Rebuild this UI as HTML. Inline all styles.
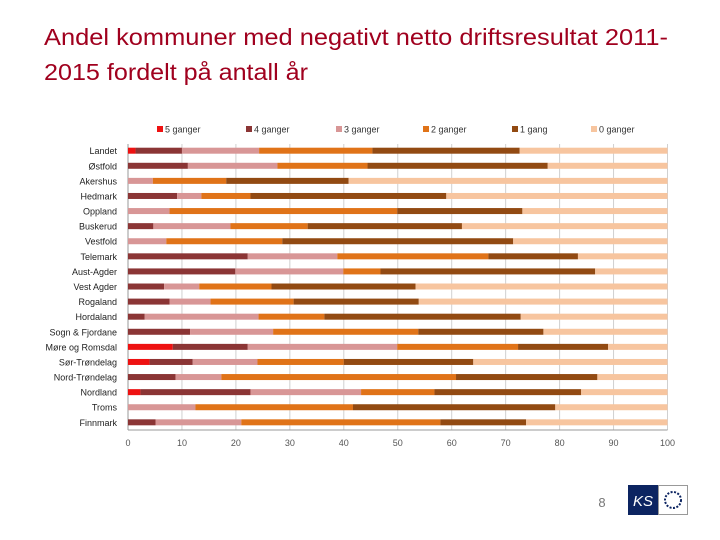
<!DOCTYPE html>
<html><head><meta charset="utf-8"><style>
body{margin:0;background:#fff;}
svg{display:block;font-family:"Liberation Sans",sans-serif;}
</style></head><body>
<svg id="chart" width="720" height="540" viewBox="0 0 720 540" xmlns="http://www.w3.org/2000/svg">
<text x="44" y="45" font-size="23" fill="#a0001e" textLength="624" lengthAdjust="spacingAndGlyphs">Andel kommuner med negativt netto driftsresultat 2011-</text>
<text x="44" y="80" font-size="23" fill="#a0001e" textLength="264" lengthAdjust="spacingAndGlyphs">2015 fordelt på antall år</text>
<g id="grid"></g><g id="bars"></g><g id="axes"></g><g id="legend"></g>
<text x="602" y="507" font-size="13" fill="#777" text-anchor="middle">8</text>
<g>
<rect x="628" y="485" width="30" height="30" fill="#0c2461"/>
<text x="643" y="506" font-size="15" font-style="italic" fill="#fff" text-anchor="middle">KS</text>
<rect x="658.5" y="485.5" width="29" height="29" fill="#fff" stroke="#999"/>
<circle cx="673" cy="500" r="8" fill="none" stroke="#0c2461" stroke-width="2" stroke-dasharray="2 1.5"/>
</g>
</svg>
<script>
const categories=["Landet","Østfold","Akershus","Hedmark","Oppland","Buskerud","Vestfold","Telemark","Aust-Agder","Vest Agder","Rogaland","Hordaland","Sogn & Fjordane","Møre og Romsdal","Sør-Trøndelag","Nord-Trøndelag","Nordland","Troms","Finnmark"];
const seriesNames=["5 ganger","4 ganger","3 ganger","2 ganger","1 gang","0 ganger"];
const s5=[1.4,0,0,0,0,0,0,0,0,0,0,0,0,8.3,4.0,0,2.3,0,0];
const s4=[8.6,11.1,0,9.1,0,4.7,0,22.2,19.9,6.7,7.7,3.1,11.5,13.9,8.0,8.8,20.4,0,5.1];
const s3=[14.3,16.6,4.6,4.5,7.7,14.3,7.1,16.6,20.0,6.5,7.6,21.1,15.4,27.7,12.0,8.5,20.5,12.5,15.9];
const s2=[21.0,16.7,13.6,9.1,42.2,14.3,21.5,28.0,6.9,13.4,15.4,12.2,26.9,22.4,16.0,43.5,13.6,29.2,36.9];
const s1=[27.3,33.4,22.7,36.3,23.2,28.6,42.8,16.6,39.8,26.7,23.2,36.4,23.2,16.7,24.0,26.2,27.2,37.5,15.9];
const s0=[27.4,22.2,59.1,41.0,26.9,38.1,28.6,16.6,13.4,46.7,46.1,27.2,23.0,11.0,36.0,13.0,16.0,20.8,26.2];
const series=[s5,s4,s3,s2,s1,s0];
const colors=["#ee1111","#8b3535","#d89696","#e07318","#924a12","#f7c59f"];
const xTicks=[0,10,20,30,40,50,60,70,80,90,100];
const NS="http://www.w3.org/2000/svg";
const X0=128,X1=667.5,Y0=150.7,DY=15.09;
const xs=v=>X0+(X1-X0)*v/100;
const ys=i=>Y0+DY*i;
function mk(tag,attrs,parent){const e=document.createElementNS(NS,tag);for(const k in attrs)e.setAttribute(k,attrs[k]);parent.appendChild(e);return e;}
const grid=document.getElementById('grid'),bars=document.getElementById('bars'),axes=document.getElementById('axes'),legend=document.getElementById('legend');
xTicks.forEach(t=>{
 const l=mk('line',{x1:xs(t),x2:xs(t),y1:144,y2:430,stroke:t===0?'#999':'#d0d0d0','stroke-width':1},grid);
 
 
 const tx=mk('text',{x:xs(t),y:446,'font-size':9,fill:'#555','text-anchor':'middle'},axes);
 tx.textContent=t;
 
 
});
const ax=mk('line',{x1:X0,x2:X1,y1:430,y2:430,stroke:'#999'},axes);


categories.forEach((c,i)=>{
 const lb=mk('text',{x:117,y:ys(i)+3.5,'font-size':9,fill:'#222','text-anchor':'end'},axes);
 lb.textContent=c;
 
 
 let cum=0;
 series.forEach((s,k)=>{
  const v=s[i];
  if(v>0){
   const r=mk('rect',{x:xs(cum),y:ys(i)-3,width:xs(cum+v)-xs(cum),height:6,fill:colors[k]},bars);
   
   
  }
  cum+=v;
 });
});
const lx=[157,246,336,423,512,591];
seriesNames.forEach((n,k)=>{
 const g=mk('g',{},legend);
 
 
 mk('rect',{x:lx[k],y:126,width:6,height:6,fill:colors[k]},g);
 const t=mk('text',{x:lx[k]+8,y:132.5,'font-size':9,fill:'#333'},g);
 t.textContent=n;
});
</script>
</body></html>
